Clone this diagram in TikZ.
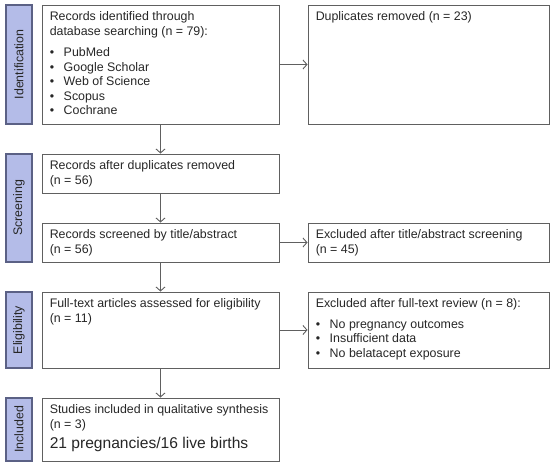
\documentclass[tikz,border=0pt]{standalone}
\usepackage{fontspec}
\setmainfont{Liberation Sans}
\usetikzlibrary{arrows.meta}

\definecolor{phasefill}{HTML}{B4BCE8}
\definecolor{phaseline}{HTML}{5B6185}
\definecolor{boxline}{HTML}{606060}
\newcommand{\bitem}[1]{\makebox[14pt][l]{\textbullet}#1}

\begin{document}
\begin{tikzpicture}[x=1pt, y=-1pt,
    every node/.style={font=\fontsize{12.4}{14.5}\selectfont, text=black!85},
    phase/.style={draw=phaseline, fill=phasefill, line width=1.2pt, rotate=90,
      minimum width=#1, minimum height=26pt, inner sep=0pt},
    box/.style={draw=boxline, line width=0.9pt, minimum width=237pt,
      minimum height=#1, inner sep=0pt},
    side/.style={box=#1, minimum width=241pt},
    txt/.style={anchor=north west, inner sep=0pt, align=left},
    flow/.style={draw=boxline, line width=0.9pt, -{Straight Barb[length=4pt,width=9pt]}}]
  \useasboundingbox (0, 0) rectangle (550, 465);

  % phases
  \node[phase=119pt] (ident) at (19, 64.5) {Identification};
  \node[phase=108pt] (scr) at (19, 208) {Screening};
  \node[phase=76pt] (elig) at (19, 330) {Eligibility};
  \node[phase=63pt] (inc) at (19, 429.5) {Included};

  % boxes
  \node[box=119pt] (rec) at (160.5, 64.5) {};
  \node[side=119pt] (dup) at (428.5, 64.5) {};
  \node[box=39pt] (after) at (160.5, 173.5) {};
  \node[box=39pt] (screen) at (160.5, 242.5) {};
  \node[side=39pt] (excla) at (428.5, 242.5) {};
  \node[box=76pt] (full) at (160.5, 330) {};
  \node[side=76pt] (exclb) at (428.5, 330) {};
  \node[box=63pt] (incl) at (160.5, 429.5) {};

  % texts (first baseline 16pt under the box top)
  \node[txt] (rectxt) at ([shift={(8,5.85)}]rec.north west)
    {\strut Records identified through\\database searching (n = 79):\\[7pt]
     \bitem{PubMed}\\\bitem{Google Scholar}\\\bitem{Web of Science}\\
     \bitem{Scopus}\\\bitem{Cochrane}};
  \node[txt] (duptxt) at ([shift={(8,5.85)}]dup.north west) {\strut Duplicates removed (n = 23)};
  \node[txt] (aftertxt) at ([shift={(8,5.85)}]after.north west)
    {\strut Records after duplicates removed\\(n = 56)};
  \node[txt] (screentxt) at ([shift={(8,5.85)}]screen.north west)
    {\strut Records screened by title/abstract\\(n = 56)};
  \node[txt] (exclatxt) at ([shift={(8,5.85)}]excla.north west)
    {\strut Excluded after title/abstract screening\\(n = 45)};
  \node[txt] (fulltxt) at ([shift={(8,5.85)}]full.north west)
    {\strut Full-text articles assessed for eligibility\\(n = 11)};
  \node[txt] (exclbtxt) at ([shift={(8,5.85)}]exclb.north west)
    {\strut Excluded after full-text review (n = 8):\\[6pt]
     \bitem{No pregnancy outcomes}\\\bitem{Insufficient data}\\
     \bitem{No belatacept exposure}};
  \node[txt] (incltxt) at ([shift={(8,5.85)}]incl.north west)
    {\strut Studies included in qualitative synthesis\\(n = 3)\\[5.5pt]
     {\fontsize{15.6}{18}\selectfont 21 pregnancies/16 live births}};

  % arrows
  \draw[flow] (rec) -- (dup);
  \draw[flow] (rec) -- (after);
  \draw[flow] (after) -- (screen);
  \draw[flow] (screen) -- (excla);
  \draw[flow] (screen) -- (full);
  \draw[flow] (full) -- (exclb);
  \draw[flow] (full) -- (incl);
\end{tikzpicture}
\end{document}
